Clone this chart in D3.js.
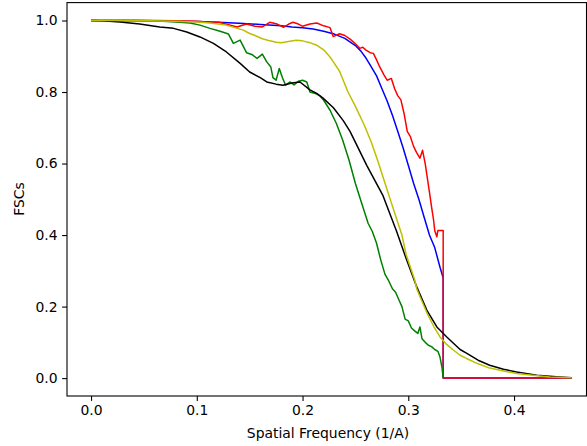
<!DOCTYPE html>
<html><head><meta charset="utf-8">
<script src="https://cdn.jsdelivr.net/npm/d3@7"></script>
<style>body{margin:0;background:#fff} svg{display:block} text{font-family:"DejaVu Sans",sans-serif}</style>
</head><body><svg id="c" width="587" height="446"></svg>
<script>
// ---- data ----
const xTicks = [0, 0.1, 0.2, 0.3, 0.4];
const yTicks = [0, 0.2, 0.4, 0.6, 0.8, 1.0];

const blueX = [0,0.02,0.04,0.06,0.08,0.10,0.12,0.14,0.16,0.18,0.19,0.20,0.21,0.22,0.23,0.24,0.25,0.255,0.26,0.265,0.27,0.275,0.28,0.285,0.29,0.295,0.30,0.305,0.31,0.315,0.32,0.325,0.33,0.333,0.333,0.4545];
const blueY = [1,1,1,0.999,0.998,0.997,0.995,0.992,0.989,0.985,0.982,0.980,0.976,0.970,0.962,0.950,0.930,0.915,0.895,0.870,0.845,0.810,0.775,0.735,0.690,0.645,0.595,0.545,0.500,0.450,0.400,0.365,0.310,0.280,0,0];

const redX = [0,0.02,0.04,0.06,0.08,0.10,0.11,0.121,0.13,0.138,0.147,0.155,0.162,0.169,0.176,0.182,0.187,0.191,0.196,0.200,0.207,0.2135,0.22,0.226,0.229,0.235,0.240,0.245,0.250,0.254,0.257,0.260,0.264,0.267,0.270,0.273,0.277,0.280,0.284,0.287,0.290,0.293,0.296,0.299,0.302,0.305,0.308,0.311,0.3135,0.316,0.318,0.320,0.322,0.324,0.325,0.327,0.328,0.333,0.333,0.4545];
const redY = [1,1,1,1,0.999,0.998,0.996,0.995,0.988,0.982,0.990,0.984,0.982,0.995,0.990,0.981,0.990,0.995,0.990,0.984,0.990,0.993,0.985,0.980,0.955,0.963,0.958,0.948,0.935,0.922,0.925,0.917,0.910,0.908,0.890,0.870,0.848,0.833,0.838,0.810,0.790,0.778,0.740,0.690,0.675,0.648,0.630,0.615,0.637,0.600,0.560,0.520,0.479,0.440,0.413,0.395,0.413,0.413,0,0];

const greenX = [0,0.02,0.04,0.06,0.08,0.0936,0.103,0.1125,0.122,0.130,0.1346,0.141,0.147,0.152,0.157,0.162,0.166,0.170,0.172,0.175,0.178,0.181,0.184,0.188,0.192,0.196,0.200,0.204,0.207,0.212,0.216,0.220,0.226,0.232,0.238,0.244,0.250,0.256,0.262,0.266,0.270,0.274,0.278,0.281,0.285,0.288,0.291,0.294,0.297,0.300,0.303,0.306,0.309,0.311,0.313,0.316,0.319,0.322,0.325,0.328,0.330,0.332,0.333];
const greenY = [1,1,1,0.999,0.996,0.993,0.987,0.978,0.970,0.962,0.936,0.945,0.910,0.905,0.894,0.906,0.885,0.870,0.840,0.833,0.866,0.840,0.819,0.828,0.820,0.830,0.833,0.828,0.800,0.796,0.790,0.777,0.749,0.712,0.665,0.609,0.544,0.488,0.433,0.410,0.377,0.330,0.290,0.275,0.250,0.240,0.220,0.200,0.165,0.160,0.140,0.132,0.125,0.143,0.110,0.100,0.092,0.088,0.080,0.075,0.059,0.027,0];

const blackX = [0,0.01,0.0274,0.046,0.065,0.078,0.0905,0.103,0.1157,0.128,0.141,0.150,0.160,0.1662,0.175,0.1816,0.190,0.1976,0.207,0.2134,0.2194,0.2292,0.2385,0.2449,0.2607,0.2761,0.289,0.2985,0.308,0.3175,0.327,0.3364,0.349,0.355,0.366,0.377,0.390,0.4025,0.4215,0.440,0.4545];
const blackY = [1,0.999,0.996,0.990,0.982,0.978,0.968,0.954,0.936,0.912,0.880,0.856,0.840,0.828,0.822,0.819,0.825,0.828,0.806,0.796,0.783,0.756,0.720,0.690,0.595,0.510,0.410,0.330,0.255,0.190,0.143,0.115,0.080,0.070,0.050,0.036,0.025,0.017,0.008,0.004,0.001];

const yellowX = [0,0.04,0.08,0.10,0.1125,0.128,0.144,0.149,0.155,0.162,0.168,0.175,0.180,0.188,0.194,0.200,0.207,0.214,0.220,0.226,0.229,0.235,0.243,0.250,0.258,0.265,0.272,0.278,0.284,0.289,0.294,0.298,0.302,0.306,0.308,0.311,0.318,0.324,0.330,0.336,0.342,0.349,0.355,0.366,0.377,0.390,0.4025,0.420,0.434,0.4545];
const yellowY = [1,1,0.998,0.996,0.993,0.987,0.973,0.965,0.958,0.949,0.944,0.939,0.938,0.942,0.945,0.943,0.938,0.930,0.918,0.898,0.885,0.858,0.800,0.760,0.710,0.660,0.600,0.545,0.490,0.445,0.400,0.345,0.310,0.275,0.250,0.228,0.180,0.145,0.115,0.095,0.080,0.064,0.055,0.040,0.028,0.020,0.013,0.007,0.003,0.001];

// ---- layout ----
const L = 67, R = 586.5, T = 2.6, B = 396;
const x = d3.scaleLinear().domain([-0.02273, 0.47727]).range([L, L + 0.5 * 1057.5]);
const y = d3.scaleLinear().domain([-0.05, 1.05]).range([B, T]);

const svg = d3.select("#c");
svg.append("defs").append("clipPath").attr("id", "clip")
  .append("rect").attr("x", L).attr("y", T).attr("width", R - L).attr("height", B - T);

const line = d3.line().x(d => x(d[0])).y(d => y(d[1]));
const series = [
  {xs: blueX, ys: blueY, color: "#0000ff"},
  {xs: redX, ys: redY, color: "#ff0000"},
  {xs: greenX, ys: greenY, color: "#008000"},
  {xs: blackX, ys: blackY, color: "#000000"},
  {xs: yellowX, ys: yellowY, color: "#bfbf00"}
];
const g = svg.append("g").attr("clip-path", "url(#clip)");
series.forEach(s => {
  g.append("path").datum(s.xs.map((v, i) => [v, s.ys[i]]))
    .attr("d", line).attr("fill", "none").attr("stroke", s.color)
    .attr("stroke-width", 1.5).attr("stroke-linejoin", "round");
});

// axes
const fs = "13.9px";
const xa = svg.append("g").attr("transform", `translate(0,${B})`)
  .call(d3.axisBottom(x).tickValues(xTicks).tickFormat(d3.format(".1f")).tickSize(4.9).tickPadding(4.5));
const ya = svg.append("g").attr("transform", `translate(${L},0)`)
  .call(d3.axisLeft(y).tickValues(yTicks).tickFormat(d3.format(".1f")).tickSize(4.9).tickPadding(4.5));
[xa, ya].forEach(a => {
  a.select(".domain").remove();
  a.selectAll("line").attr("stroke", "#000").attr("stroke-width", 1.1);
  a.selectAll("text").attr("font-size", fs).attr("fill", "#000").attr("font-family", "DejaVu Sans");
});
svg.append("rect").attr("x", L).attr("y", T).attr("width", R - L).attr("height", B - T)
  .attr("fill", "none").attr("stroke", "#000").attr("stroke-width", 1.1);

svg.append("text").attr("x", 328).attr("y", 438).attr("text-anchor", "middle")
  .attr("font-size", fs).text("Spatial Frequency (1/A)");
svg.append("text").attr("transform", "translate(24,199) rotate(-90)").attr("text-anchor", "middle")
  .attr("font-size", fs).text("FSCs");
</script></body></html>
